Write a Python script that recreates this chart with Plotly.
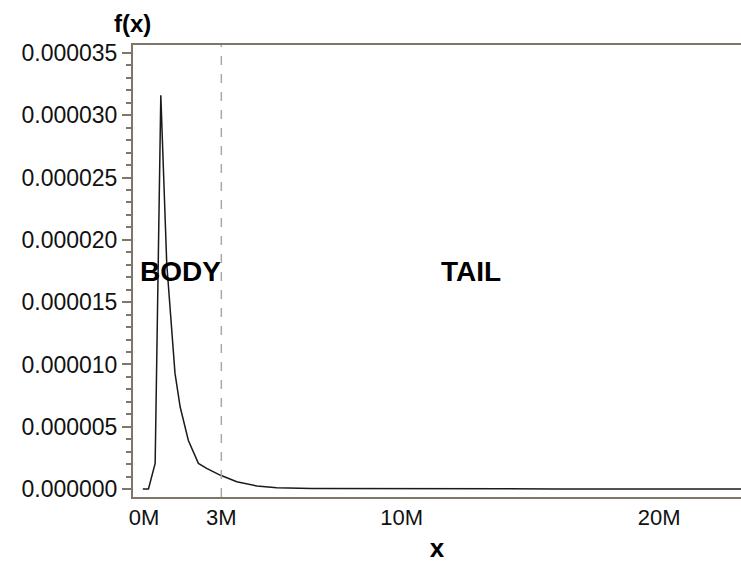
import plotly.graph_objects as go

# ---- data ----
x_vals = [-0.05e6, 0.17e6, 0.43e6, 0.65e6, 0.88e6, 1.08e6, 1.2e6, 1.4e6, 1.72e6, 2.11e6,
          2.43e6, 2.95e6, 3.6e6, 4.38e6, 5.15e6, 6.5e6, 8.5e6, 12e6, 16e6, 20e6, 23.5e6]
fx_vals = [0.0, 0.0, 2.06e-6, 31.6e-6, 18.1e-6, 13.0e-6, 9.3e-6, 6.6e-6, 3.9e-6, 2.06e-6,
           1.66e-6, 1.12e-6, 0.59e-6, 0.24e-6, 0.10e-6, 0.05e-6, 0.03e-6, 0.015e-6, 0.008e-6,
           0.004e-6, 0.002e-6]
threshold = 3e6
x_tickvals = [0, 3e6, 10e6, 20e6]
x_ticktext = ["0M", "3M", "10M", "20M"]
y_tickvals = [0, 5e-6, 10e-6, 15e-6, 20e-6, 25e-6, 30e-6, 35e-6]
y_ticktext = ["0.000000", "0.000005", "0.000010", "0.000015", "0.000020",
              "0.000025", "0.000030", "0.000035"]
region_labels = ["BODY", "TAIL"]
region_x = [1.4e6, 12.7e6]
region_y = [17.5e-6, 17.5e-6]

AX = "#7d776a"
FONT = "Liberation Sans, Arial, sans-serif"

fig = go.Figure()
fig.add_trace(go.Scatter(x=x_vals, y=fx_vals, mode="lines",
                         line=dict(color="#1a1a1a", width=1.5), showlegend=False,
                         hoverinfo="skip"))

fig.add_shape(type="line", xref="x", yref="paper", x0=threshold, x1=threshold, y0=0, y1=1,
              line=dict(color="#a8a8a8", width=1.5, dash="dash"))

for t, xx, yy in zip(region_labels, region_x, region_y):
    fig.add_annotation(x=xx, y=yy, xref="x", yref="y", text="<b>%s</b>" % t,
                       showarrow=False, font=dict(family=FONT, size=28, color="#000"))

fig.add_annotation(xref="paper", yref="paper", x=0, y=1, xanchor="center", yanchor="bottom",
                   yshift=6, xshift=-1, text="<b>f(x)</b>", showarrow=False,
                   font=dict(family=FONT, size=24, color="#000"))

fig.update_layout(
    width=741, height=563,
    margin=dict(l=133, r=0, t=45, b=66),
    plot_bgcolor="white", paper_bgcolor="white",
    font=dict(family=FONT, size=23, color="#111"),
    xaxis=dict(range=[-0.43e6, 23.18e6], tickvals=x_tickvals, ticktext=x_ticktext,
               showgrid=False, zeroline=False, showline=True, linecolor=AX, linewidth=2,
               mirror=True, ticks="", tickfont=dict(size=22, color="#111"),
               title=dict(text="<b>x</b>", font=dict(size=26, color="#000"), standoff=10)),
    yaxis=dict(range=[-0.64e-6, 35.64e-6], tickvals=y_tickvals, ticktext=y_ticktext,
               showgrid=False, zeroline=False, showline=True, linecolor=AX, linewidth=2,
               ticks="outside", ticklen=9, tickwidth=2, tickcolor=AX,
               tickfont=dict(size=23, color="#111"),
               minor=dict(dtick=1e-6, ticks="outside", ticklen=5, tickwidth=2, tickcolor=AX,
                          showgrid=False)),
)

fig.write_html("out.html")
